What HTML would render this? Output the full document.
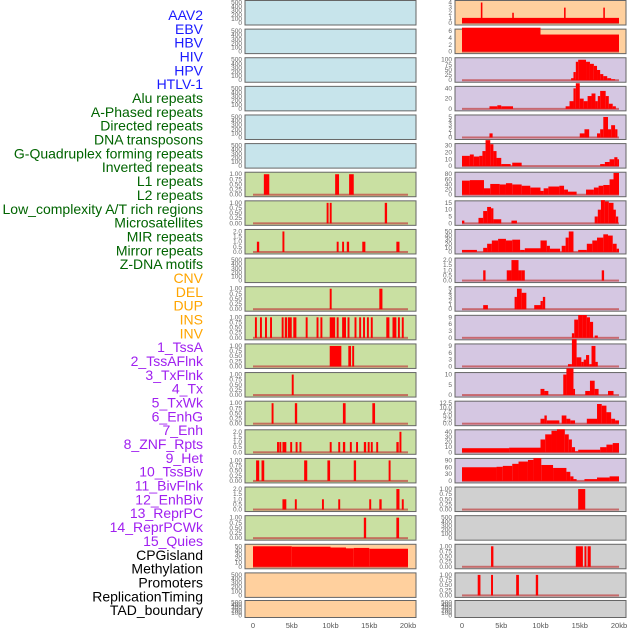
<!DOCTYPE html>
<html><head><meta charset="utf-8"><style>
html,body{margin:0;padding:0;background:#fff;}
svg{display:block;font-family:"Liberation Sans",sans-serif;}
</style></head><body>
<svg id="chart" width="630" height="630" viewBox="0 0 630 630"></svg>
<script>
const labels = ["AAV2","EBV","HBV","HIV","HPV","HTLV-1","Alu repeats","A-Phased repeats","Directed repeats","DNA transposons","G-Quadruplex forming repeats","Inverted repeats","L1 repeats","L2 repeats","Low_complexity A/T rich regions","Microsatellites","MIR repeats","Mirror repeats","Z-DNA motifs","CNV","DEL","DUP","INS","INV","1_TssA","2_TssAFlnk","3_TxFlnk","4_Tx","5_TxWk","6_EnhG","7_Enh","8_ZNF_Rpts","9_Het","10_TssBiv","11_BivFlnk","12_EnhBiv","13_ReprPC","14_ReprPCWk","15_Quies","CPGisland","Methylation","Promoters","ReplicationTiming","TAD_boundary"];
const labelGroups = [6,13,5,15,5];
const groupColors = ["#1a1aff","#006400","#ffa500","#a020f0","#000000"];
const xTicks = [0,5,10,15,20];
const xTickLabels = ["0","5kb","10kb","15kb","20kb"];

const T500=[0,100,200,300,400,500], T1=[0,0.25,0.5,0.75,1], T2=[0,0.5,1,1.5,2];
const leftBg = ["b","b","b","b","b","b","g","g","g","g","g","g","g","g","g","g","g","g","g","p","p","p"];
const leftTicks = [T500,T500,T500,T500,T500,T500,T1,T1,T2,T500,T1,T1,T1,T1,T1,T2,T1,T2,T1,[0,10,20,30,40,50],T500,T500];
const leftData = [
 [],[],[],[],[],[],
 [[1.4,2.1,1],[10.6,11.1,1],[12.4,13.0,1]],
 [[9.5,9.75,1],[9.9,10.15,1],[17.0,17.3,1]],
 [[0.5,0.8,1],[3.8,4.05,2],[10.8,11.05,1],[11.5,11.75,1],[12.1,12.4,1],[14.1,14.5,1],[18.5,18.9,1]],
 [],
 [[9.9,10.15,1],[16.3,16.7,1]],
 [[0.25,0.5,1],[0.9,1.15,1],[1.55,1.8,1],[2.2,2.45,1],[3.7,3.95,1],[4.1,4.4,1],[4.5,5.0,1],[5.2,5.6,1],[6.8,7.05,1],[8.2,8.45,1],[8.7,8.95,1],[9.9,10.6,1],[10.8,11.05,1],[11.5,12.0,1],[12.2,12.45,1],[13.1,13.35,1],[13.7,13.95,1],[14.2,14.45,1],[14.7,14.95,1],[15.2,15.45,1],[17.2,17.6,1],[18.0,18.5,1],[18.7,18.95,1],[19.2,19.45,1]],
 [[9.9,11.4,1],[12.3,12.65,1],[12.8,13.05,1]],
 [[5.0,5.25,1]],
 [[2.4,2.65,1],[5.4,5.7,1],[11.6,11.95,1],[15.4,15.75,1]],
 [[3.1,3.35,1],[3.4,3.65,1],[3.8,4.3,1],[4.8,5.05,1],[5.5,5.75,1],[6.0,6.25,1],[9.9,10.15,1],[11.0,11.25,1],[11.6,11.9,1],[12.5,12.75,1],[13.3,13.55,1],[14.3,14.6,1],[14.8,15.05,1],[15.2,15.45,1],[15.9,16.15,1],[18.5,18.8,1],[18.9,19.15,2]],
 [[0.4,0.8,1],[1.1,1.45,1],[6.6,7.0,1],[9.6,9.95,1],[13.0,13.3,1],[17.5,17.75,1]],
 [[3.8,4.3,1],[5.4,5.65,1],[8.9,9.15,1],[11.0,11.25,1],[15.0,15.25,1],[16.3,16.6,1],[18.5,18.9,2],[19.2,19.45,1]],
 [[14.3,14.6,1],[18.5,18.85,1]],
 [[0,5,50],[5,10,49],[10,12,47],[12,13,45],[13,15,46],[15,18,44],[18,20,44]],
 [],[]
];
const rightBg = ["p","p","u","u","u","u","u","u","u","u","u","u","u","u","u","u","u","y","y","y","y","y"];
const rightTicks = [[0,1,2,3,4],[0,2,4,6],[0,25,50,75,100],[0,20,40],[0,1,2,3,4,5],[0,10,20,30],[0,20,40,60,80],[0,5,10,15],[0,10,20,30,40,50],T2,[0,1,2,3,4,5],[0,3,6,9],[0,3,6,9],[0,5,10],[0,2.5,5,7.5,10,12.5],[0,10,20,30,40],[0,30,60,90],T1,T500,T1,T1,T500];
const rightData = [
 [[0,20,1],[2.4,2.6,4],[6.4,6.6,2],[13.0,13.2,3],[18.0,18.2,3]],
 [[0,10,7],[10,20,5]],
 [[13.9,14.2,10],[14.2,14.5,40],[14.5,14.8,90],[14.8,15.8,100],[15.8,16.3,90],[16.3,16.8,80],[16.8,17.2,70],[17.2,17.6,50],[17.6,18.0,30],[18.0,18.5,20],[18.5,19.0,10],[19.0,19.5,5]],
 [[3.5,4.5,5],[4.5,5.0,7],[5.0,6.5,5],[13.2,13.7,5],[13.7,14.2,15],[14.2,14.5,40],[14.5,15.0,50],[15.0,15.5,20],[15.5,16.0,15],[16.0,16.5,25],[16.5,17.0,30],[17.0,17.3,15],[17.3,17.6,25],[17.6,18.3,35],[18.3,18.7,25],[18.7,19.2,10],[19.2,19.6,5]],
 [[3.5,3.9,1],[15.0,15.6,1],[15.6,16.2,2],[17.2,17.6,1],[17.6,18.0,2],[18.0,18.6,5],[18.6,19.0,2],[19.0,19.5,3],[19.5,19.8,2]],
 [[0,1.0,15],[1.0,1.5,17],[1.5,2.2,14],[2.2,2.6,15],[2.6,3.0,22],[3.0,3.6,38],[3.6,4.0,32],[4.0,4.4,22],[4.4,5.0,12],[5.0,6.2,3],[6.4,7.6,5],[17.6,18.2,3],[18.2,18.8,6],[18.8,19.4,10],[19.4,19.8,13],[19.8,20,10]],
 [[0,1.0,55],[1.0,2.8,57],[2.8,3.6,25],[3.6,4.8,42],[4.8,5.6,40],[5.6,6.4,45],[6.4,7.6,40],[7.6,8.7,35],[8.7,10.0,28],[10.0,10.4,15],[10.4,11.0,25],[11.0,12.4,32],[12.4,13.0,35],[13.0,13.5,20],[13.5,14.6,12],[15.8,16.8,20],[16.8,17.4,28],[17.4,18.0,35],[18.0,18.8,38],[18.8,19.3,60],[19.3,20,85]],
 [[0,0.3,2],[2.1,2.7,4],[2.7,3.2,9],[3.2,3.7,12],[3.7,4.0,11],[4.0,5.0,3],[6.3,7.0,2],[16.9,17.3,5],[17.3,17.7,10],[17.7,18.2,17],[18.2,18.7,16],[18.7,19.3,15],[19.3,19.6,10],[19.6,19.9,5]],
 [[0,1.9,5],[2.7,3.2,10],[3.2,3.8,20],[3.8,4.6,28],[4.6,5.6,32],[5.6,6.4,28],[6.4,7.4,30],[7.4,8.0,5],[8.0,10.0,9],[10.0,10.8,28],[10.8,11.2,15],[11.2,12.5,8],[12.7,13.2,15],[13.2,13.6,35],[13.6,14.2,50],[14.8,15.9,5],[15.9,16.6,20],[16.6,17.2,28],[17.2,18.0,35],[18.0,18.6,43],[18.6,19.2,40],[19.2,19.7,20],[19.7,20,8]],
 [[2.7,3.0,1],[5.7,6.3,1],[6.3,7.2,2],[7.2,7.6,1],[7.6,8.0,1],[17.8,18.1,1]],
 [[2.7,3.3,1],[6.7,7.0,3],[7.0,7.6,5],[7.6,8.2,4],[9.2,10.0,1],[10.0,10.3,2],[10.3,10.6,3]],
 [[14.0,14.3,2],[14.3,14.8,8],[14.8,15.4,10],[15.4,15.9,10],[15.9,16.3,9],[16.3,16.7,7],[16.9,17.3,1]],
 [[13.5,14.0,1],[14.0,14.6,12],[14.6,15.2,4],[15.2,15.5,2],[15.5,15.8,3],[15.8,16.2,5],[16.2,16.5,1],[16.5,17.0,9],[17.0,17.3,2]],
 [[10.0,10.5,3],[10.5,11.0,2],[12.9,13.3,10],[13.3,14.2,13],[14.2,14.4,3],[15.7,16.3,2],[16.3,16.9,7],[16.9,17.4,3],[18.6,19.3,2]],
 [[10.0,10.5,3],[10.5,10.8,5],[10.8,12.4,2],[12.7,13.3,5],[13.3,13.8,3],[13.8,14.4,2],[15.9,17.2,3],[17.2,17.8,12],[17.8,18.4,11],[18.4,19.0,7],[19.0,19.5,3],[19.5,20,2]],
 [[0,6.0,8],[6.0,10.0,9],[10.0,10.6,25],[10.6,11.4,35],[11.4,12.1,42],[12.1,13.1,45],[13.1,13.6,35],[13.6,14.0,25],[14.0,14.4,10],[14.4,14.8,2],[14.8,17.6,5],[17.6,18.4,10],[18.4,19.2,15],[19.2,20,18]],
 [[0,4.4,60],[4.4,5.2,62],[5.2,6.4,66],[6.4,7.2,75],[7.2,8.4,85],[8.4,9.1,92],[9.1,10.1,100],[10.1,11.6,70],[11.6,13.3,57],[13.3,13.8,40],[13.8,14.2,20],[14.2,14.6,8],[15.6,17.2,8],[17.2,18.8,15],[18.8,20,20]],
 [[14.8,15.7,1]],
 [],
 [[3.7,4.0,1],[14.5,15.4,1],[15.6,15.85,1],[16.0,16.4,1]],
 [[2.0,2.35,1],[3.7,3.95,1],[6.9,7.25,1],[9.4,9.7,1]],
 []
];

const svg = document.getElementById('chart');
const NS = "http://www.w3.org/2000/svg";
function mk(tag, attrs){ const e=document.createElementNS(NS,tag); for(const k in attrs) e.setAttribute(k,attrs[k]); return e; }
const bgColors = {b:"#c7e4eb", g:"#c9e0a2", p:"#ffd09e", u:"#d5c7e2", y:"#d0d0d0"};

// labels
let li=0;
labelGroups.forEach((n,g)=>{
  for(let k=0;k<n;k++){
    const t = mk('text',{x:203,y:15+li*13.84+5,'text-anchor':'end','font-size':'14',fill:groupColors[g]});
    t.textContent = labels[li];
    
    
    svg.appendChild(t); li++;
  }
});

function rowTop(i){ return i<21 ? i*28.62 : 600; }
function rowH(i){ return i<21 ? 24.5 : 17; }

function drawPanel(col, i, bg, ticks, data){
  const px = col===0 ? 245 : 455, pw = 171;
  const x0 = col===0 ? 253 : 462, kbW = col===0 ? 7.75 : 7.85;
  const xs = kb => x0 + kb*kbW;
  const top = rowTop(i), h = rowH(i);
  const g = mk('g',{});
  
  
  svg.appendChild(g);
  g.appendChild(mk('rect',{x:px,y:top+0.5,width:pw,height:h,fill:bgColors[bg],stroke:'#666','stroke-width':1}));
  const tmax = ticks[ticks.length-1];
  const y0 = top+h-1.5, yTop = top+2.5;
  const ys = v => y0 - (v/tmax)*(y0-yTop);
  ticks.forEach(tv=>{
    const t = mk('text',{x:px-3,y:ys(tv)+2,'text-anchor':'end','font-size':'6.5',fill:'#666'});
    t.textContent = (tmax<=2 && ticks.length===5 && tmax===1) ? tv.toFixed(2) : (tmax===2 ? tv.toFixed(1) : (tmax===12.5 ? tv.toFixed(1) : String(tv)));
    
    
    g.appendChild(t);
  });
  if(data.length || (tmax!==500)){
    g.appendChild(mk('rect',{x:xs(0),y:y0-1,width:xs(20)-xs(0),height:2,fill:'#c04040',opacity:0.7}));
  }
  data.forEach(d=>{
    const r = mk('rect',{x:xs(d[0]),y:ys(d[2]),width:Math.max(1,xs(d[1])-xs(d[0])),height:y0-ys(d[2]),fill:'#ff0000'});
    
    
    g.appendChild(r);
  });
}
for(let i=0;i<22;i++){
  drawPanel(0,i,leftBg[i],leftTicks[i],leftData[i]);
  drawPanel(1,i,rightBg[i],rightTicks[i],rightData[i]);
}
[0,1].forEach(col=>{
  const x0 = col===0 ? 253 : 462, kbW = col===0 ? 7.75 : 7.85;
  xTicks.forEach((v,k)=>{
    const t = mk('text',{x:x0+v*kbW,y:628,'text-anchor':'middle','font-size':'7.5',fill:'#555'});
    t.textContent = xTickLabels[k];
    
    
    svg.appendChild(t);
  });
});
</script>
</body></html>
